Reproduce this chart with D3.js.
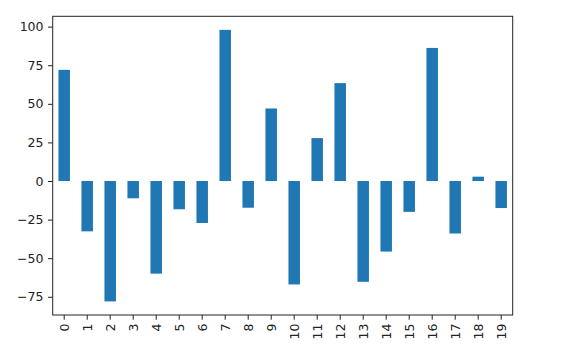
<!DOCTYPE html>
<html>
<head>
<meta charset="utf-8">
<script src="https://cdn.jsdelivr.net/npm/d3@7"></script>
<style>
  body { margin: 0; background: #fff; }
  text { font-family: "DejaVu Sans", sans-serif; }
</style>
</head>
<body>
<div id="chart"></div>
<script>
const categories = d3.range(20).map(String);
const values = [72, -32.6, -78, -11.2, -60, -18.3, -27.2, 97.9, -17.3, 47,
  -67, 27.8, 63.4, -65.3, -45.7, -20, 86.2, -34, 2.8, -17.5];
const yTicks = [-75, -50, -25, 0, 25, 50, 75, 100];

const width = 562, height = 363;
const margin = { top: 16.3, right: 49.3, bottom: 48, left: 52.7 };
const innerW = width - margin.left - margin.right;
const innerH = height - margin.top - margin.bottom;

const svg = d3.select('#chart')
  .append('svg')
  .attr('width', width)
  .attr('height', height);

const g = svg.append('g')
  .attr('transform', `translate(${margin.left},${margin.top})`);

const xScale = d3.scaleBand()
  .domain(categories)
  .range([0, innerW])
  .paddingInner(0.5)
  .paddingOuter(0.25);

const yMin = d3.min(values), yMax = d3.max(values);
const pad = (yMax - yMin) * 0.05;
const yScale = d3.scaleLinear()
  .domain([yMin - pad, yMax + pad])
  .range([innerH, 0]);

g.selectAll('.bar')
  .data(values)
  .enter()
  .append('rect')
  .attr('class', 'bar')
  .attr('x', (d, i) => xScale(categories[i]))
  .attr('y', (d) => yScale(Math.max(0, d)))
  .attr('width', xScale.bandwidth())
  .attr('height', (d) => Math.abs(yScale(d) - yScale(0)))
  .attr('fill', '#1f77b4');

const yAxis = g.append('g')
  .call(d3.axisLeft(yScale).tickValues(yTicks).tickSize(4.7).tickPadding(4.5));
yAxis.select('.domain').remove();
yAxis.selectAll('text').attr('font-size', 12.5).attr('fill', '#222').attr('font-family', '"DejaVu Sans", sans-serif');
yAxis.selectAll('line').attr('stroke', '#222');

const xAxis = g.append('g')
  .attr('transform', `translate(0,${innerH})`)
  .call(d3.axisBottom(xScale).tickSize(4.7).tickPadding(4.5));
xAxis.select('.domain').remove();
xAxis.selectAll('line').attr('stroke', '#222');
xAxis.selectAll('text')
  .attr('font-size', 12.5)
  .attr('fill', '#222')
  .attr('font-family', '"DejaVu Sans", sans-serif')
  .attr('transform', 'rotate(-90)')
  .attr('x', -8.5)
  .attr('y', 0)
  .attr('dy', '0.35em')
  .attr('text-anchor', 'end');

g.append('rect')
  .attr('width', innerW)
  .attr('height', innerH)
  .attr('fill', 'none')
  .attr('stroke', '#222')
  .attr('stroke-width', 1);
</script>
</body>
</html>
